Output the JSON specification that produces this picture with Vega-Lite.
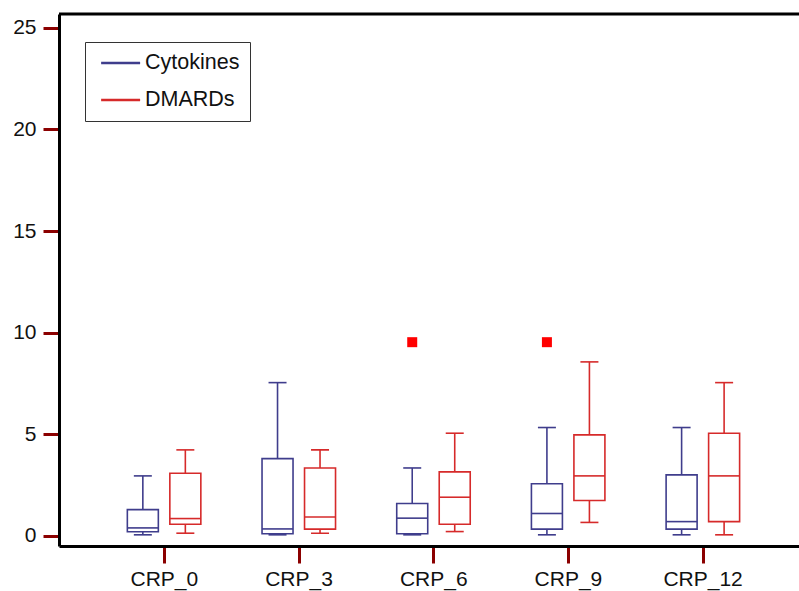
{
  "$schema": "https://vega.github.io/schema/vega-lite/v6.json",
  "width": 740,
  "height": 532,
  "autosize": {"type": "none"},
  "padding": {"left": 59, "top": 14, "right": 0, "bottom": 45},
  "background": "white",
  "config": {
    "view": {"stroke": null},
    "font": "Liberation Sans",
    "axis": {"labelFont": "Liberation Sans", "labelColor": "#111", "grid": false, "title": null}
  },
  "datasets": {
    "boxes": [
      {"time": "CRP_0", "group": "Cytokines", "lower": 0.05, "q1": 0.2, "median": 0.39, "q3": 1.29, "upper": 2.95},
      {"time": "CRP_0", "group": "DMARDs", "lower": 0.13, "q1": 0.57, "median": 0.85, "q3": 3.08, "upper": 4.23},
      {"time": "CRP_3", "group": "Cytokines", "lower": 0.05, "q1": 0.1, "median": 0.34, "q3": 3.8, "upper": 7.54},
      {"time": "CRP_3", "group": "DMARDs", "lower": 0.13, "q1": 0.33, "median": 0.93, "q3": 3.34, "upper": 4.23},
      {"time": "CRP_6", "group": "Cytokines", "lower": 0.05, "q1": 0.1, "median": 0.87, "q3": 1.59, "upper": 3.34},
      {"time": "CRP_6", "group": "DMARDs", "lower": 0.21, "q1": 0.57, "median": 1.9, "q3": 3.15, "upper": 5.05},
      {"time": "CRP_9", "group": "Cytokines", "lower": 0.05, "q1": 0.33, "median": 1.1, "q3": 2.56, "upper": 5.33},
      {"time": "CRP_9", "group": "DMARDs", "lower": 0.66, "q1": 1.74, "median": 2.95, "q3": 4.97, "upper": 8.56},
      {"time": "CRP_12", "group": "Cytokines", "lower": 0.05, "q1": 0.33, "median": 0.7, "q3": 3.0, "upper": 5.33},
      {"time": "CRP_12", "group": "DMARDs", "lower": 0.05, "q1": 0.7, "median": 2.95, "q3": 5.05, "upper": 7.54}
    ],
    "outliers": [
      {"time": "CRP_6", "group": "Cytokines", "value": 9.53},
      {"time": "CRP_9", "group": "Cytokines", "value": 9.53}
    ]
  },
  "layer": [
    {
      "data": {"name": "boxes"},
      "transform": [{"filter": "datum.group === 'Cytokines'"}],
      "encoding": {
        "x": {
          "field": "time", "type": "nominal",
          "sort": ["CRP_0", "CRP_3", "CRP_6", "CRP_9", "CRP_12"],
          "scale": {"paddingInner": 0, "paddingOuter": 0.247, "align": 0.571},
          "axis": {
            "labelAngle": 0, "labelFontSize": 21, "labelPadding": 5,
            "domainColor": "#000", "domainWidth": 3,
            "tickColor": "#8B0000", "tickWidth": 3, "tickSize": 17
          }
        },
        "color": {"field": "group", "type": "nominal"}
      },
      "layer": [
        {
          "mark": {"type": "rule", "strokeWidth": 1.6, "xOffset": -21.5},
          "encoding": {
            "y": {"field": "lower", "type": "quantitative",
              "scale": {"domain": [-0.5, 25.68], "nice": false, "zero": false},
              "axis": {
                "values": [0, 5, 10, 15, 20, 25], "labelFontSize": 21, "labelPadding": 7,
                "domainColor": "#000", "domainWidth": 3,
                "tickColor": "#8B0000", "tickWidth": 3, "tickSize": 16
              }
            },
            "y2": {"field": "q1"},
            "color": {
              "field": "group", "type": "nominal",
              "scale": {"domain": ["Cytokines", "DMARDs"], "range": ["#3F3D8C", "#D62A2A"]},
              "legend": {
                "title": null, "orient": "none", "legendX": 26, "legendY": 28,
                "symbolType": "M-0.5,0L3.5,0", "symbolSize": 380, "symbolStrokeWidth": 2.5,
                "labelFontSize": 21.5, "labelFont": "Liberation Sans", "labelColor": "#111",
                "labelOffset": 28, "rowPadding": 15,
                "strokeColor": "#333", "padding": 10, "fillColor": "white"
              }
            }
          }
        },
        {
          "mark": {"type": "rule", "strokeWidth": 1.6, "xOffset": -21.5},
          "encoding": {
            "y": {"field": "q3", "type": "quantitative"},
            "y2": {"field": "upper"}
          }
        },
        {
          "mark": {"type": "bar", "filled": false, "strokeWidth": 1.6, "width": 31, "xOffset": -21.5},
          "encoding": {
            "y": {"field": "q1", "type": "quantitative"},
            "y2": {"field": "q3"}
          }
        },
        {
          "mark": {"type": "tick", "size": 31, "thickness": 1.6, "opacity": 1, "xOffset": -21.5},
          "encoding": {"y": {"field": "median", "type": "quantitative"}}
        },
        {
          "mark": {"type": "tick", "size": 18, "thickness": 1.6, "opacity": 1, "xOffset": -21.5},
          "encoding": {"y": {"field": "lower", "type": "quantitative"}}
        },
        {
          "mark": {"type": "tick", "size": 18, "thickness": 1.6, "opacity": 1, "xOffset": -21.5},
          "encoding": {"y": {"field": "upper", "type": "quantitative"}}
        }
      ]
    },
    {
      "data": {"name": "boxes"},
      "transform": [{"filter": "datum.group === 'DMARDs'"}],
      "encoding": {
        "x": {"field": "time", "type": "nominal", "sort": ["CRP_0", "CRP_3", "CRP_6", "CRP_9", "CRP_12"]},
        "color": {"field": "group", "type": "nominal"}
      },
      "layer": [
        {
          "mark": {"type": "rule", "strokeWidth": 1.6, "xOffset": 21},
          "encoding": {
            "y": {"field": "lower", "type": "quantitative"},
            "y2": {"field": "q1"}
          }
        },
        {
          "mark": {"type": "rule", "strokeWidth": 1.6, "xOffset": 21},
          "encoding": {
            "y": {"field": "q3", "type": "quantitative"},
            "y2": {"field": "upper"}
          }
        },
        {
          "mark": {"type": "bar", "filled": false, "strokeWidth": 1.6, "width": 31, "xOffset": 21},
          "encoding": {
            "y": {"field": "q1", "type": "quantitative"},
            "y2": {"field": "q3"}
          }
        },
        {
          "mark": {"type": "tick", "size": 31, "thickness": 1.6, "opacity": 1, "xOffset": 21},
          "encoding": {"y": {"field": "median", "type": "quantitative"}}
        },
        {
          "mark": {"type": "tick", "size": 18, "thickness": 1.6, "opacity": 1, "xOffset": 21},
          "encoding": {"y": {"field": "lower", "type": "quantitative"}}
        },
        {
          "mark": {"type": "tick", "size": 18, "thickness": 1.6, "opacity": 1, "xOffset": 21},
          "encoding": {"y": {"field": "upper", "type": "quantitative"}}
        }
      ]
    },
    {
      "data": {"name": "outliers"},
      "mark": {"type": "square", "filled": true, "size": 100, "color": "#FF0000", "opacity": 1, "xOffset": -21.5},
      "encoding": {
        "x": {"field": "time", "type": "nominal", "sort": ["CRP_0", "CRP_3", "CRP_6", "CRP_9", "CRP_12"]},
        "y": {"field": "value", "type": "quantitative"}
      }
    },
    {
      "data": {"values": [{}]},
      "mark": {"type": "rule", "strokeWidth": 3, "color": "#000"},
      "encoding": {
        "y": {"datum": 25.68, "type": "quantitative"}
      }
    }
  ]
}
